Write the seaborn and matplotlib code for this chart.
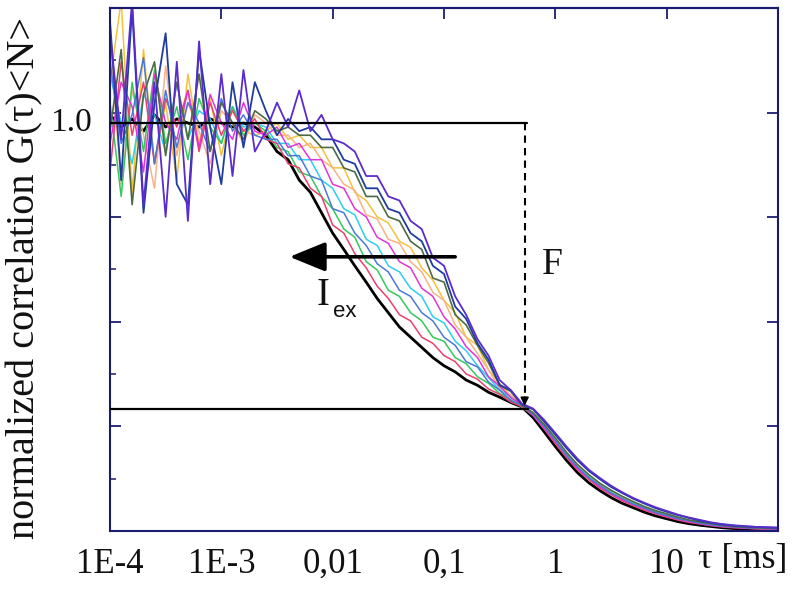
import matplotlib
matplotlib.use("Agg")
import matplotlib.pyplot as plt
import seaborn as sns
import numpy as np
import pandas as pd
from matplotlib.ticker import LogLocator, NullFormatter, FixedLocator, NullLocator

# ---------------- data ----------------
tau = [1.0e-4, 1.26e-4, 1.58e-4, 2.0e-4, 2.51e-4, 3.16e-4, 3.98e-4, 5.01e-4, 6.31e-4, 7.94e-4,
       1.0e-3, 1.26e-3, 1.58e-3, 2.0e-3, 2.51e-3, 3.16e-3, 3.98e-3, 5.01e-3, 6.31e-3, 7.94e-3,
       1.0e-2, 1.26e-2, 1.58e-2, 2.0e-2, 2.51e-2, 3.16e-2, 3.98e-2, 5.01e-2, 6.31e-2, 7.94e-2,
       1.0e-1, 1.26e-1, 1.58e-1, 2.0e-1, 2.51e-1, 3.16e-1, 3.98e-1, 5.01e-1, 6.31e-1, 7.94e-1,
       1.0, 1.26, 1.58, 2.0, 2.51, 3.16, 3.98, 5.01, 6.31, 7.94,
       10.0, 12.6, 15.8, 20.0, 25.1, 31.6, 39.8, 50.1, 63.1, 79.4, 100.0]

g_black = [1.02, 0.99, 1.01, 0.98, 1.02, 0.99, 1.01, 1.00, 0.99, 1.01, 1.00, 0.99, 1.00, 0.99,
           0.97, 0.93, 0.91, 0.86, 0.83, 0.78, 0.73, 0.69, 0.65, 0.61, 0.57, 0.535, 0.50, 0.475,
           0.45, 0.425, 0.405, 0.39, 0.37, 0.357, 0.34, 0.328, 0.315, 0.304,
           0.278, 0.243, 0.207, 0.173, 0.143, 0.118, 0.099, 0.082, 0.068, 0.057, 0.046, 0.037,
           0.030, 0.023, 0.018, 0.014, 0.011, 0.008, 0.006, 0.005, 0.004, 0.003, 0.003]
g_red = [0.88, 1.15, 0.97, 1.10, 0.90, 1.06, 0.99, 1.08, 0.93, 1.05, 0.97, 1.03, 0.98, 1.01,
         0.96, 0.95, 0.90, 0.89, 0.84, 0.82, 0.75, 0.73, 0.68, 0.645, 0.60, 0.57, 0.53, 0.515,
         0.475, 0.46, 0.43, 0.415, 0.385, 0.372, 0.348, 0.335, 0.316, 0.305,
         0.284, 0.25, 0.214, 0.180, 0.150, 0.126, 0.105, 0.089, 0.074, 0.062, 0.051, 0.042,
         0.034, 0.027, 0.021, 0.017, 0.013, 0.010, 0.008, 0.007, 0.005, 0.004, 0.004]
g_green = [1.05, 0.82, 1.10, 0.93, 1.13, 0.95, 1.04, 0.91, 1.06, 0.99, 0.95, 1.04, 0.97, 1.00,
           0.98, 0.94, 0.93, 0.88, 0.87, 0.82, 0.79, 0.74, 0.72, 0.66, 0.64, 0.59, 0.575, 0.535,
           0.515, 0.475, 0.465, 0.425, 0.41, 0.378, 0.362, 0.337, 0.322, 0.303,
           0.284, 0.254, 0.219, 0.186, 0.154, 0.131, 0.109, 0.094, 0.078, 0.067, 0.055, 0.046,
           0.038, 0.031, 0.025, 0.020, 0.016, 0.013, 0.011, 0.009, 0.008, 0.007, 0.006]
g_blue = [1.15, 0.95, 1.02, 1.16, 0.90, 1.08, 0.94, 1.05, 1.00, 0.93, 1.06, 0.98, 1.02, 0.97,
          0.96, 0.96, 0.92, 0.92, 0.87, 0.86, 0.79, 0.78, 0.73, 0.70, 0.655, 0.635, 0.59, 0.575,
          0.535, 0.515, 0.475, 0.455, 0.415, 0.402, 0.365, 0.345, 0.32, 0.308,
          0.287, 0.256, 0.221, 0.185, 0.157, 0.13, 0.112, 0.093, 0.08, 0.066, 0.056, 0.045,
          0.038, 0.03, 0.025, 0.019, 0.015, 0.012, 0.01, 0.008, 0.007, 0.006, 0.006]
g_cyan = [1.12, 1.00, 0.90, 1.07, 1.02, 0.93, 1.10, 0.96, 1.03, 1.01, 0.95, 1.04, 0.99, 1.00,
          0.99, 0.95, 0.95, 0.91, 0.91, 0.86, 0.84, 0.79, 0.775, 0.715, 0.70, 0.65, 0.635, 0.595,
          0.575, 0.525, 0.51, 0.465, 0.442, 0.405, 0.376, 0.346, 0.328, 0.306,
          0.285, 0.255, 0.22, 0.188, 0.156, 0.133, 0.111, 0.095, 0.079, 0.068, 0.056, 0.047,
          0.039, 0.032, 0.026, 0.021, 0.017, 0.014, 0.012, 0.01, 0.009, 0.008, 0.007]
g_magenta = [0.95, 1.10, 1.04, 0.88, 1.12, 1.00, 0.96, 1.08, 0.94, 1.07, 1.00, 0.96, 1.05, 0.98,
             0.97, 0.99, 0.94, 0.95, 0.91, 0.91, 0.85, 0.84, 0.79, 0.77, 0.72, 0.705, 0.66, 0.645,
             0.595, 0.575, 0.525, 0.495, 0.452, 0.425, 0.378, 0.355, 0.327, 0.31,
             0.283, 0.252, 0.218, 0.184, 0.153, 0.129, 0.108, 0.092, 0.077, 0.065, 0.054, 0.044,
             0.036, 0.029, 0.023, 0.018, 0.014, 0.011, 0.009, 0.007, 0.006, 0.005, 0.004]
g_peach = [1.20, 0.85, 1.08, 0.97, 0.84, 1.14, 0.92, 1.05, 0.98, 0.90, 1.03, 1.00, 0.95, 1.02,
           1.00, 0.97, 0.97, 0.94, 0.95, 0.91, 0.89, 0.85, 0.835, 0.775, 0.765, 0.715, 0.705, 0.66,
           0.635, 0.585, 0.565, 0.505, 0.475, 0.435, 0.395, 0.35, 0.334, 0.306,
           0.286, 0.257, 0.222, 0.187, 0.157, 0.132, 0.112, 0.094, 0.079, 0.067, 0.056, 0.046,
           0.038, 0.031, 0.025, 0.02, 0.016, 0.012, 0.01, 0.008, 0.007, 0.006, 0.005]
g_yellow = [1.10, 1.30, 0.83, 1.18, 0.90, 1.05, 0.86, 1.12, 0.95, 1.06, 0.92, 1.04, 0.98, 0.97,
            0.98, 1.00, 0.96, 0.97, 0.94, 0.94, 0.89, 0.89, 0.83, 0.81, 0.77, 0.755, 0.71, 0.695,
            0.645, 0.615, 0.565, 0.535, 0.475, 0.455, 0.395, 0.362, 0.33, 0.312,
            0.287, 0.258, 0.223, 0.189, 0.158, 0.134, 0.113, 0.096, 0.081, 0.068, 0.057, 0.047,
            0.039, 0.032, 0.025, 0.02, 0.016, 0.013, 0.011, 0.009, 0.007, 0.006, 0.005]
g_olive = [0.98, 1.18, 0.80, 1.07, 1.15, 0.92, 1.10, 0.96, 1.12, 0.93, 1.05, 1.00, 0.96, 1.03,
           1.01, 0.98, 0.99, 0.97, 0.97, 0.94, 0.94, 0.89, 0.88, 0.82, 0.82, 0.77, 0.76, 0.71,
           0.69, 0.62, 0.61, 0.53, 0.505, 0.455, 0.412, 0.357, 0.342, 0.308,
           0.29, 0.261, 0.228, 0.193, 0.163, 0.138, 0.117, 0.1, 0.085, 0.072, 0.06, 0.05,
           0.042, 0.034, 0.027, 0.022, 0.018, 0.014, 0.011, 0.009, 0.008, 0.007, 0.006]
g_navy = [1.25, 0.86, 1.28, 0.78, 1.05, 1.22, 0.85, 0.80, 1.18, 0.99, 0.85, 1.10, 0.94, 1.10,
          1.03, 0.97, 1.01, 0.98, 0.99, 0.96, 0.96, 0.91, 0.90, 0.84, 0.84, 0.79, 0.78, 0.73,
          0.71, 0.65, 0.63, 0.55, 0.52, 0.46, 0.42, 0.358, 0.345, 0.31,
          0.298, 0.268, 0.236, 0.203, 0.173, 0.147, 0.127, 0.108, 0.093, 0.079, 0.067, 0.056,
          0.047, 0.039, 0.032, 0.025, 0.020, 0.016, 0.013, 0.011, 0.010, 0.009, 0.008]
g_purple = [1.22, 0.96, 1.30, 0.80, 1.10, 0.77, 1.15, 0.76, 1.20, 0.85, 1.12, 0.87, 1.13, 0.93,
            0.98, 1.05, 0.99, 1.08, 0.98, 1.02, 0.96, 0.95, 0.93, 0.87, 0.87, 0.82, 0.81, 0.76,
            0.74, 0.67, 0.65, 0.575, 0.53, 0.47, 0.43, 0.37, 0.345, 0.312,
            0.300, 0.272, 0.240, 0.207, 0.177, 0.150, 0.130, 0.111, 0.095, 0.081, 0.069, 0.058,
            0.049, 0.040, 0.033, 0.027, 0.021, 0.017, 0.014, 0.012, 0.010, 0.009, 0.008]

curve_names = ["black", "yellow", "peach", "cyan", "green", "red", "magenta", "blue",
               "olive", "navy", "purple"]
curve_values = [g_black, g_yellow, g_peach, g_cyan, g_green, g_red, g_magenta, g_blue,
                g_olive, g_navy, g_purple]
curve_colors = ["#000000", "#f3c23c", "#f7b384", "#2fcdee", "#35c85a", "#ee3f6c", "#e034d8",
                "#4b78d6", "#4d6b43", "#1f3c9e", "#5a2bcf"]
curve_widths = [2.0, 1.1, 1.1, 1.1, 1.1, 1.1, 1.1, 1.1, 1.2, 1.3, 1.3]

tick_pos = [1e-4, 1e-3, 1e-2, 1e-1, 1, 10, 100]
tick_labels = ["1E-4", "1E-3", "0,01", "0,1", "1", "10", ""]

plateau = 1.0
floor_level = 0.30
tau_F = 0.53
arrow_from, arrow_to, arrow_level = 0.126, 0.0041, 0.672

for v in curve_values:
    assert len(v) == len(tau), len(v)

# ---------------- figure ----------------
sns.set_style("white")
plt.rcParams["font.family"] = ["Liberation Serif", "DejaVu Serif"]

fig = plt.figure(figsize=(8, 5.93), dpi=100)
ax = fig.add_axes([0.1375, 0.1046, 0.835, 0.882])

rows = []
for name, vals in zip(curve_names, curve_values):
    for t, g in zip(tau, vals):
        rows.append((name, t, g))
df = pd.DataFrame(rows, columns=["curve", "tau", "G"])

for name, col, lw in zip(curve_names, curve_colors, curve_widths):
    sns.lineplot(data=df[df.curve == name], x="tau", y="G", color=col, linewidth=lw,
                 estimator=None, sort=False, ax=ax, legend=False)

ax.set_xscale("log")
ymax = 1.282
ax.set_xlim(1e-4, 100)
ax.set_ylim(0, ymax)
ax.set_xlabel("")
ax.set_ylabel("")

spine_col = "#1b1b6e"
for s in ax.spines.values():
    s.set_color(spine_col)
    s.set_linewidth(1.5)

# x ticks (bottom major + minor, top major only)
ax.xaxis.set_major_locator(FixedLocator(tick_pos))
ax.set_xticklabels(tick_labels)
ax.xaxis.set_minor_locator(LogLocator(base=10, subs=np.arange(2, 10)))
ax.xaxis.set_minor_formatter(NullFormatter())
ax.tick_params(axis="x", which="major", direction="in", length=8, width=1.3, color=spine_col,
               labelsize=25, pad=12, top=False)
ax.tick_params(axis="x", which="minor", direction="in", length=5, width=1.1, color=spine_col,
               top=False)
for lab in ax.get_xticklabels():
    lab.set_color("#111111")

axt = ax.secondary_xaxis("top")
axt.set_xticks(tick_pos[1:-1])
axt.xaxis.set_minor_locator(NullLocator())
axt.tick_params(axis="x", direction="in", length=8, width=1.3, color=spine_col, labelsize=0)
axt.set_xticklabels([])
axt.spines["top"].set_color(spine_col)
axt.spines["top"].set_linewidth(1.5)

# y ticks: major on both sides, minor on left
major_y = [ymax * f for f in (0.2, 0.4, 0.6, 0.8)]
minor_y = [ymax * f for f in (0.1, 0.3, 0.5, 0.7, 0.9)]
ax.set_yticks(major_y)
ax.set_yticklabels([])
ax.yaxis.set_minor_locator(FixedLocator(minor_y))
ax.tick_params(axis="y", which="major", direction="in", length=8, width=1.3, color=spine_col,
               left=True, right=True)
ax.tick_params(axis="y", which="minor", direction="in", length=4, width=1.1, color=spine_col,
               left=True, right=False)

# reference lines
ax.plot([1e-4, 0.56], [plateau, plateau], color="black", lw=1.6, zorder=5)
ax.plot([1e-4, 0.57], [floor_level, floor_level], color="black", lw=1.6, zorder=5)
ax.plot([tau_F, tau_F], [plateau, floor_level + 0.03], color="black", lw=1.5,
        ls=(0, (3.5, 2.5)), zorder=5)
ax.annotate("", xy=(tau_F, floor_level), xytext=(tau_F, floor_level + 0.035),
            arrowprops=dict(arrowstyle="-|>", color="black", lw=1.2,
                            mutation_scale=12), zorder=6)

# I_ex arrow
ax.annotate("", xy=(arrow_to, arrow_level), xytext=(arrow_from, arrow_level),
            arrowprops=dict(arrowstyle="-|>,head_length=1.1,head_width=0.45", color="black",
                            lw=2.6, mutation_scale=20, shrinkA=0, shrinkB=0), zorder=7)

ax.text(0.0072, 0.555, "I", fontsize=28, ha="left", va="baseline", color="#111111")
ax.text(0.0101, 0.525, "ex", fontsize=16, ha="left", va="baseline", color="#111111",
        family=["Liberation Sans", "DejaVu Sans"])
ax.text(0.76, 0.63, "F", fontsize=27, ha="left", va="baseline", color="#111111")

# "1.0" label and axis titles
ax.text(-0.027, plateau, "1.0", transform=ax.get_yaxis_transform(), fontsize=24,
        ha="right", va="center", color="#111111")
fig.text(698 / 800, 1 - 568 / 593, "τ [ms]", fontsize=26, ha="left", va="baseline",
         color="#111111")
fig.text(25 / 800, 1 - 278 / 593, "normalized correlation G(τ)<N>", fontsize=29,
         rotation=90, ha="center", va="center", color="#111111")

fig.savefig("out.png", dpi=100)
